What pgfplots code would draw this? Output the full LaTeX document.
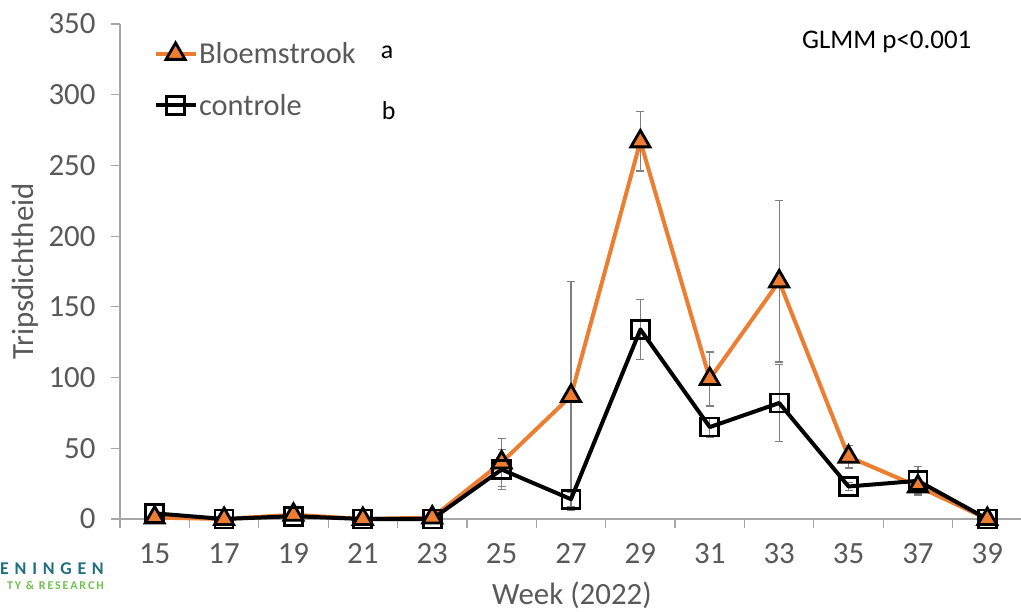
\documentclass[border=0pt]{standalone}
\usepackage{fontspec}
\setmainfont{Carlito}
\usepackage{pgfplots}
\usepackage{pgfplotstable}
\pgfplotsset{compat=1.18}

\definecolor{bloem}{HTML}{ED7D31}
\definecolor{txtgrey}{HTML}{595959}
\definecolor{axgrey}{HTML}{A6A6A6}
\definecolor{errgrey}{HTML}{7F7F7F}
\definecolor{wurteal}{HTML}{1F6F7F}
\definecolor{wurgreen}{HTML}{6CC24A}

% thrips density per week: mean and error for both treatments
\pgfplotstableread{
week bl  blerr co  coerr
15   1   0     4   0
17   0   0     0   0
19   3   0     2   0
21   0   0     0   0
23   1   0     0   0
25   40  17    35  14
27   87  81    14  5
29   267 21    134 21
31   99  19    65  7
33   168 57    82  27
35   44  8     23  3
37   23  5     27  10
39   0   0     0   0
}\datatable

\begin{document}
\begin{tikzpicture}
\useasboundingbox (0,0) rectangle (1021bp,612bp);
\begin{axis}[
  at={(120bp,93bp)}, anchor=south west,
  scale only axis, width=902bp, height=495bp,
  xmin=14, xmax=40, ymin=0, ymax=350,
  axis lines*=left,
  axis line style={axgrey, line width=1.2bp, -},
  tick align=outside,
  major tick length=9bp,
  tick style={axgrey, line width=1.2bp},
  xtick={14,16,...,40},
  xticklabels={15,17,19,21,23,25,27,29,31,33,35,37,39,{}},
  xticklabel style={xshift=34.7bp, yshift=-12bp},
  ytick={0,50,...,350},
  yticklabel style={xshift=-12bp},
  ticklabel style={text=txtgrey, font=\fontsize{31}{35}\selectfont},
  /pgf/number format/assume math mode=true,
  xlabel={Week (2022)},
  ylabel={Tripsdichtheid},
  label style={text=txtgrey, font=\fontsize{31}{35}\selectfont},
  xlabel style={at={(axis description cs:0.501,-0.1535)}, anchor=center},
  ylabel style={at={(axis description cs:-0.105,0.5)}, anchor=center},
  legend style={draw=none, fill=none, at={(0.037,0.8875)}, anchor=west,
    font=\fontsize{30.5}{34}\selectfont, text=txtgrey, row sep=26bp,
    legend cell align=left, inner sep=0pt,
    nodes={inner sep=1.5bp}},
  legend image code/.code={%
    \draw[mark repeat=2, mark phase=2] plot coordinates {(0bp,0bp)(20bp,0bp)(40bp,0bp)};},
  clip=false,
]
% error bars first, so the markers sit on top of them
\addplot[draw=none, mark=none, forget plot,
  error bars/.cd, y dir=both, y explicit,
  error bar style={errgrey, line width=1.3bp},
  error mark options={errgrey, rotate=90, mark size=4bp, line width=1.3bp}]
  table[x=week, y=bl, y error=blerr]{\datatable};
\addplot[draw=none, mark=none, forget plot,
  error bars/.cd, y dir=both, y explicit,
  error bar style={errgrey, line width=1.3bp},
  error mark options={errgrey, rotate=90, mark size=4bp, line width=1.3bp}]
  table[x=week, y=co, y error=coerr]{\datatable};

\addplot[bloem, line width=4bp, line join=round,
  mark=triangle*, mark size=11bp,
  mark options={fill=bloem, draw=black, line width=2.8bp, line join=miter}]
  table[x=week, y=bl]{\datatable};
\addlegendentry{Bloemstrook}
\addplot[black, line width=4bp, line join=round,
  mark=square, mark size=9bp,
  mark options={draw=black, line width=2.8bp, line join=miter}]
  table[x=week, y=co]{\datatable};
\addlegendentry{controle}

\node[font=\fontsize{26}{30}\selectfont] at (rel axis cs:0.296,0.943) {a};
\node[font=\fontsize{26}{30}\selectfont] at (rel axis cs:0.298,0.826) {b};
\node[font=\fontsize{27}{31}\selectfont] at (rel axis cs:0.850,0.964) {GLMM p<0.001};
\end{axis}
% institute logo, cut by the left edge
\node[anchor=south east, inner sep=0pt, text=wurteal,
  font=\fontsize{18}{21}\selectfont\bfseries\addfontfeature{LetterSpace=32}]
  at (104bp,37bp) {ENINGEN};
\node[anchor=south east, inner sep=0pt, text=wurgreen,
  font=\fontsize{12}{14}\selectfont\bfseries\addfontfeature{LetterSpace=16}]
  at (104bp,22bp) {TY \& RESEARCH};
\end{tikzpicture}
\end{document}
